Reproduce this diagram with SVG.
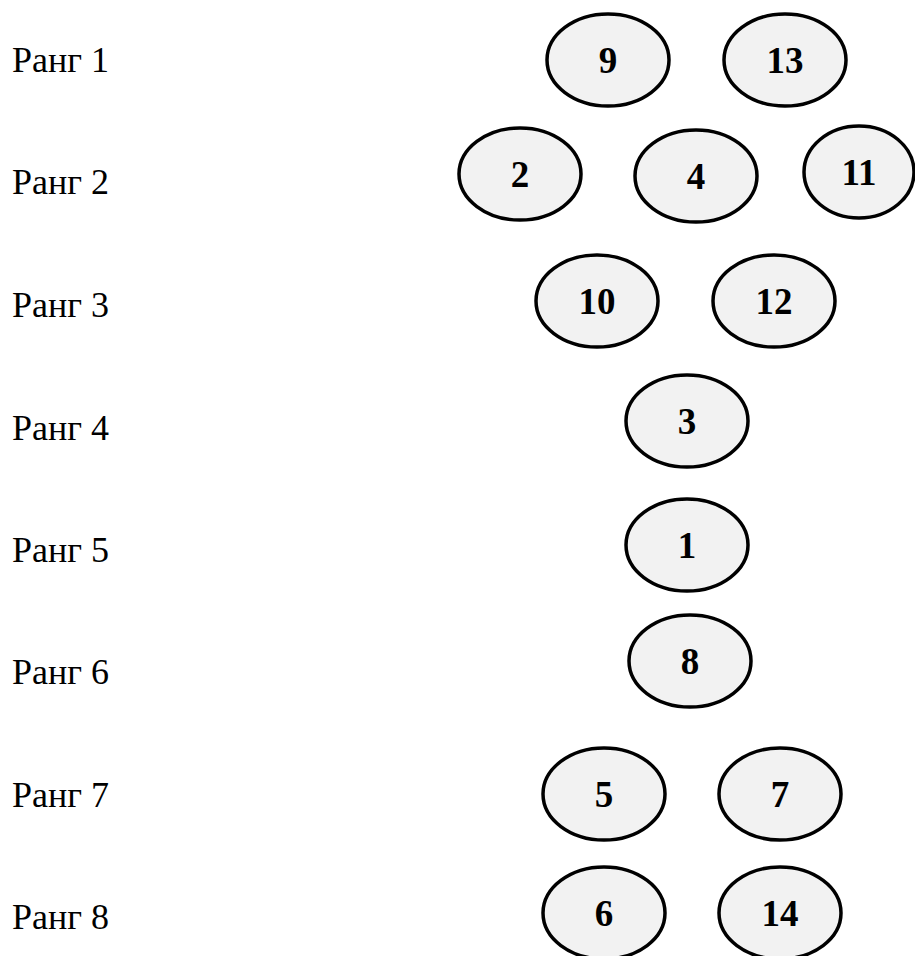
<svg xmlns="http://www.w3.org/2000/svg" width="915" height="956" viewBox="0 0 915 956">
  <style>
    .rank { font-family: "Liberation Serif", "Times New Roman", serif; font-size: 36px; fill: #000; }
    .node ellipse { fill: #f2f2f2; stroke: #000; stroke-width: 3.5; }
    .node text { font-family: "Liberation Serif", "Times New Roman", serif; font-size: 37px; font-weight: bold; fill: #000; text-anchor: middle; }
  </style>
  <rect width="915" height="956" fill="#fff"/>

  <!-- rank labels -->
  <g id="rank-labels">
    <text class="rank" x="12" y="72">Ранг 1</text>
    <text class="rank" x="12" y="194">Ранг 2</text>
    <text class="rank" x="12" y="317">Ранг 3</text>
    <text class="rank" x="12" y="440">Ранг 4</text>
    <text class="rank" x="12" y="562">Ранг 5</text>
    <text class="rank" x="12" y="684">Ранг 6</text>
    <text class="rank" x="12" y="807">Ранг 7</text>
    <text class="rank" x="12" y="929">Ранг 8</text>
  </g>

  <!-- no connectors in this diagram -->
  <g id="connectors"/>

  <!-- rank 1 -->
  <g id="node-9" class="node"><ellipse cx="608" cy="60" rx="61" ry="46"/><text x="608" y="73">9</text></g>
  <g id="node-13" class="node"><ellipse cx="785" cy="60" rx="61" ry="46"/><text x="785" y="73">13</text></g>
  <!-- rank 2 -->
  <g id="node-2" class="node"><ellipse cx="520" cy="174" rx="61" ry="46"/><text x="520" y="187">2</text></g>
  <g id="node-4" class="node"><ellipse cx="696" cy="176" rx="61" ry="46"/><text x="696" y="189">4</text></g>
  <g id="node-11" class="node"><ellipse cx="859" cy="172" rx="55" ry="46"/><text x="859" y="185">11</text></g>
  <!-- rank 3 -->
  <g id="node-10" class="node"><ellipse cx="597" cy="301" rx="61" ry="46"/><text x="597" y="314">10</text></g>
  <g id="node-12" class="node"><ellipse cx="774" cy="301" rx="61" ry="46"/><text x="774" y="314">12</text></g>
  <!-- rank 4 -->
  <g id="node-3" class="node"><ellipse cx="687" cy="421" rx="61" ry="46"/><text x="687" y="434">3</text></g>
  <!-- rank 5 -->
  <g id="node-1" class="node"><ellipse cx="687" cy="545" rx="61" ry="46"/><text x="687" y="558">1</text></g>
  <!-- rank 6 -->
  <g id="node-8" class="node"><ellipse cx="690" cy="661" rx="61" ry="46"/><text x="690" y="674">8</text></g>
  <!-- rank 7 -->
  <g id="node-5" class="node"><ellipse cx="604" cy="794" rx="61" ry="46"/><text x="604" y="807">5</text></g>
  <g id="node-7" class="node"><ellipse cx="780" cy="794" rx="61" ry="46"/><text x="780" y="807">7</text></g>
  <!-- rank 8 -->
  <g id="node-6" class="node"><ellipse cx="604" cy="913" rx="61" ry="46"/><text x="604" y="926">6</text></g>
  <g id="node-14" class="node"><ellipse cx="780" cy="913" rx="61" ry="46"/><text x="780" y="926">14</text></g>
</svg>
